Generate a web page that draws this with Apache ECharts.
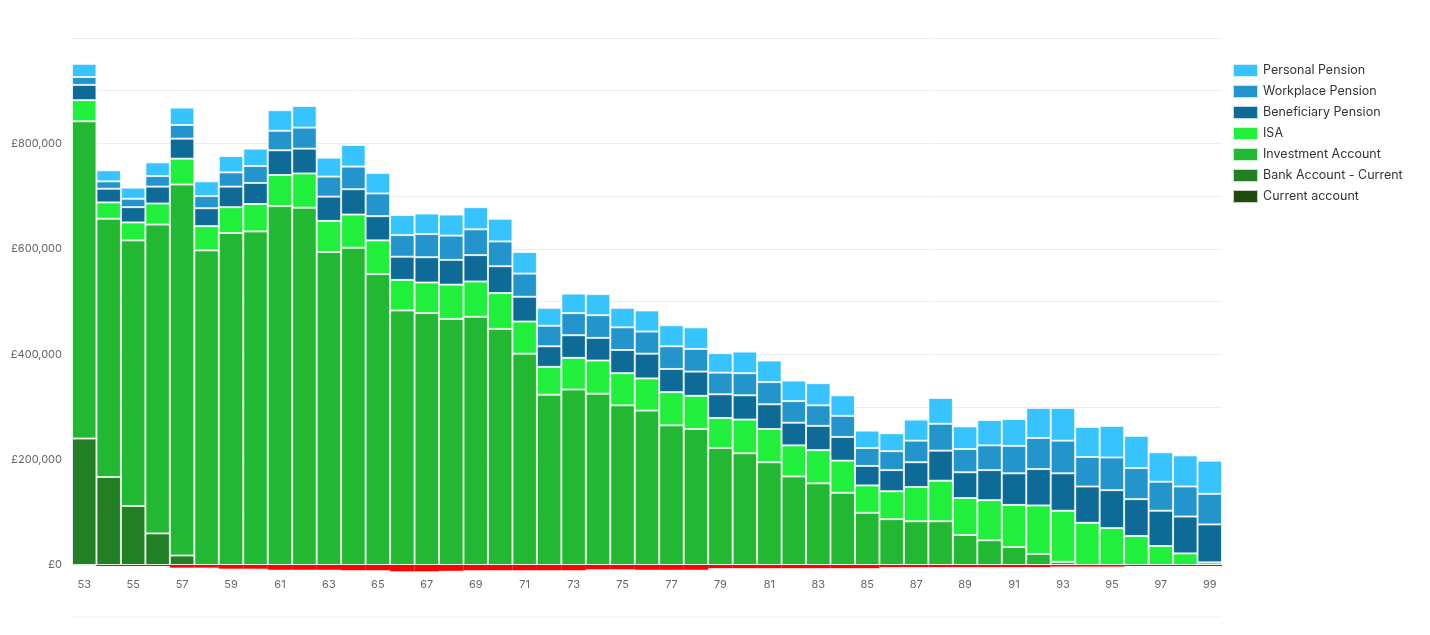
<!DOCTYPE html>
<html>
<head>
<meta charset="utf-8">
<script src="https://cdn.jsdelivr.net/npm/echarts@6/dist/echarts.min.js"></script>
<style>
  html, body { margin: 0; padding: 0; background: #fff; }
  #chart { width: 1430px; height: 635px; }
</style>
</head>
<body>
<div id="chart"></div>
<script>
const ages = ["53","54","55","56","57","58","59","60","61","62","63","64","65","66","67","68","69","70","71","72","73","74","75","76","77","78","79","80","81","82","83","84","85","86","87","88","89","90","91","92","93","94","95","96","97","98","99"];

const currentAccount = [0,-2000,-2000,-2000,-5000,-5000,-7000,-7000,-9000,-9000,-9000,-10000,-10000,-12000,-12000,-11000,-10000,-10000,-10000,-10000,-10000,-8000,-8000,-9000,-9000,-9000,-6000,-6000,-6000,-6000,-6000,-6000,-6000,-4000,-4000,-4000,-4000,-4000,-4000,-4000,-3000,-3000,-3000,-2000,-2000,-2000,-2000];
const bankCurrent = [240000,167000,112000,60000,18000,0,0,0,0,0,0,0,0,0,0,0,0,0,0,0,0,0,0,0,0,0,0,0,0,0,0,0,0,0,0,0,0,0,0,0,0,0,0,0,0,0,0];
const investment = [602000,490000,504000,586000,704000,597000,630000,633000,681000,678000,594000,602000,552000,483000,478000,467000,471000,448000,401000,323000,333000,325000,303000,293000,265000,258000,222000,212000,195000,168000,155000,137000,99000,87000,83000,83000,57000,47000,34000,21000,6000,0,0,0,0,0,0];
const isa = [40000,31000,34000,40000,49000,46000,49000,52000,59000,65000,59000,63000,64000,58000,58000,65000,67000,68000,61000,53000,60000,63000,61000,61000,63000,63000,57000,64000,63000,59000,63000,61000,52000,53000,65000,77000,70000,76000,80000,92000,97000,80000,70000,55000,36000,22000,5000];
const beneficiary = [29000,26000,29000,32000,38000,34000,39000,40000,47000,47000,46000,48000,46000,44000,48000,47000,50000,51000,47000,39000,43000,43000,44000,47000,44000,46000,45000,46000,47000,43000,46000,45000,37000,40000,47000,57000,49000,57000,60000,69000,71000,69000,72000,70000,67000,70000,72000];
const workplace = [15000,14000,16000,20000,26000,23000,27000,32000,37000,40000,38000,43000,43000,41000,44000,46000,49000,47000,44000,39000,42000,43000,43000,42000,43000,43000,41000,42000,42000,41000,39000,40000,34000,36000,41000,51000,44000,47000,52000,59000,62000,56000,62000,59000,55000,57000,58000];
const personal = [25000,21000,21000,26000,33000,28000,31000,33000,39000,41000,36000,41000,39000,38000,39000,40000,42000,43000,41000,34000,37000,40000,37000,40000,40000,41000,37000,41000,41000,39000,42000,39000,33000,34000,40000,49000,43000,48000,51000,57000,62000,57000,60000,61000,56000,59000,63000];

const legendOrder = ["Personal Pension","Workplace Pension","Beneficiary Pension","ISA","Investment Account","Bank Account - Current","Current account"];

const chart = echarts.init(document.getElementById("chart"));

// empty segments are left out so they draw no border line at the base
function barSeries(name, data, color, extra) {
  return Object.assign({
    name: name,
    type: "bar",
    stack: "total",
    barCategoryGap: "0%",
    data: data.map(function (v) { return v === 0 ? null : v; }),
    itemStyle: { color: color, borderColor: "rgba(255,255,255,0.75)", borderWidth: 1 },
    emphasis: { disabled: true },
  }, extra || {});
}

chart.setOption({
  animation: false,
  textStyle: { fontFamily: "Inter, 'Noto Sans', sans-serif" },
  grid: { left: 72, right: 208, top: 38, bottom: 70 },
  legend: {
    orient: "vertical",
    left: 1227,
    top: 58,
    icon: "rect",
    itemWidth: 25,
    itemHeight: 13,
    itemGap: 6,
    data: legendOrder,
    textStyle: { color: "#333", fontSize: 12.5 },
  },
  xAxis: {
    type: "category",
    data: ages,
    axisLine: { show: false },
    axisTick: { show: false },
    axisLabel: { interval: 1, color: "#666", fontSize: 11, margin: 14 },
  },
  yAxis: {
    type: "value",
    min: 0,
    max: 1000000,
    interval: 100000,
    axisLine: { show: false },
    axisTick: { show: false },
    splitLine: { lineStyle: { color: "#eeeeee" } },
    axisLabel: {
      color: "#666",
      fontSize: 11,
      margin: 10,
      formatter: function (v) {
        if (v % 200000 !== 0 || v >= 1000000) return "";
        return "£" + v.toLocaleString("en-GB");
      },
    },
  },
  graphic: [
    {
      type: "line",
      shape: { x1: 72, y1: 617, x2: 1222, y2: 617 },
      style: { stroke: "#f0f0f0", lineWidth: 1 },
      silent: true,
    },
  ],
  series: [
    barSeries("Current account", currentAccount, "#1d4a0d", {
      clip: false,
      // overdrawn balances are shown in red below the axis
      data: currentAccount.map(function (v) {
        if (v === 0) return null;
        return v < 0 ? { value: v, itemStyle: { color: "#ff0000", borderWidth: 0 } } : v;
      }),
    }),
    barSeries("Bank Account - Current", bankCurrent, "#227f23"),
    barSeries("Investment Account", investment, "#22b831"),
    barSeries("ISA", isa, "#20f03c"),
    barSeries("Beneficiary Pension", beneficiary, "#0e6a96"),
    barSeries("Workplace Pension", workplace, "#2395cc"),
    barSeries("Personal Pension", personal, "#37c3fd"),
  ],
});
</script>
</body>
</html>
